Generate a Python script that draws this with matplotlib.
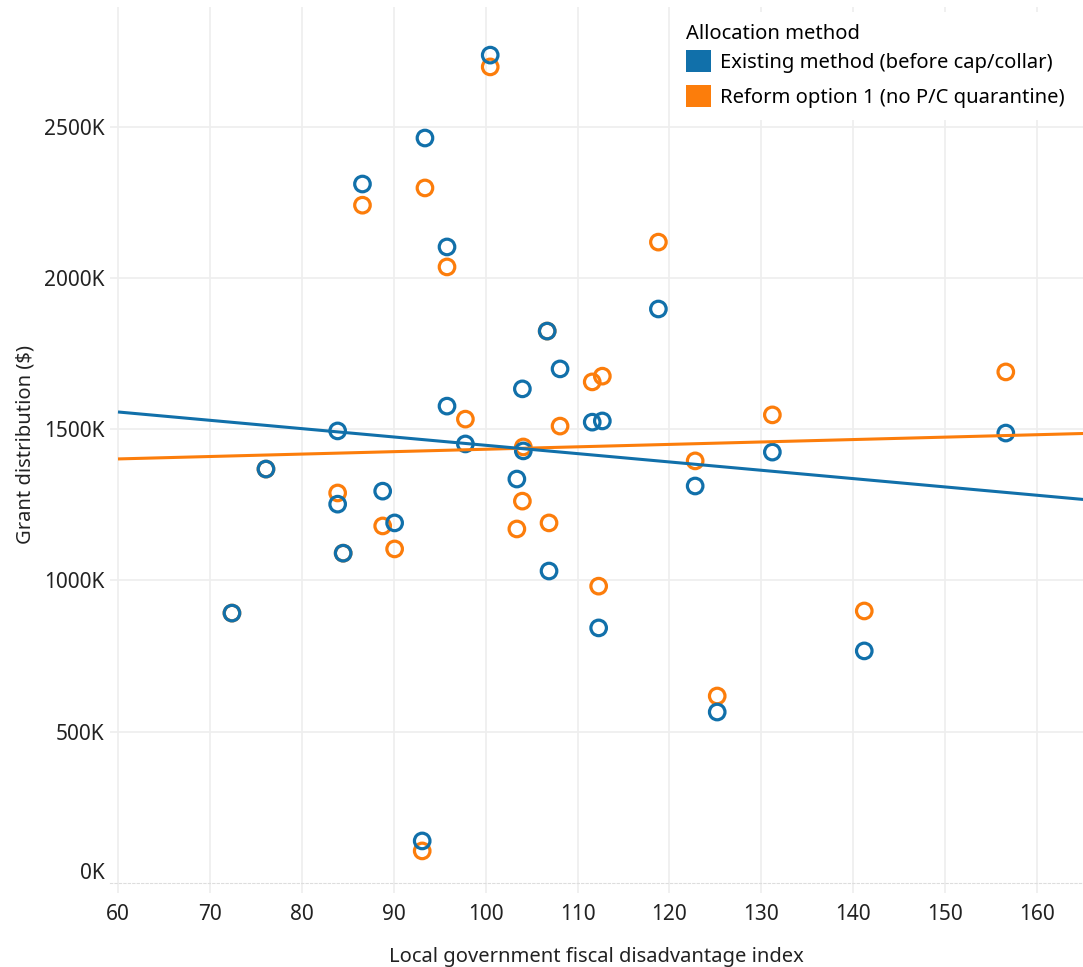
import numpy as np
import matplotlib
matplotlib.use("Agg")
import matplotlib.pyplot as plt
from matplotlib.patches import Patch
from matplotlib.ticker import FuncFormatter
import matplotlib.transforms as mtransforms

plt.rcParams['font.family'] = ['Noto Sans', 'DejaVu Sans']

# Existing method (before cap/collar)
x_existing = [100.5, 93.4, 86.6, 95.8, 118.8, 106.7, 108.1, 104.0, 95.8, 83.9,
              111.6, 112.7, 97.8, 104.1, 156.6, 131.2, 76.1, 103.4, 122.8, 88.8,
              83.9, 90.1, 84.5, 106.9, 72.4, 112.3, 141.2, 125.2, 93.1]
y_existing = [2736, 2462, 2310, 2102, 1897, 1824, 1699, 1633, 1576, 1494,
              1523, 1527, 1451, 1428, 1487, 1424, 1368, 1335, 1312, 1295,
              1252, 1190, 1090, 1031, 892, 843, 767, 565, 139]

# Reform option 1 (no P/C quarantine) - last four sit hidden under the blue circles
x_reform = [100.5, 93.4, 86.6, 95.8, 118.8, 111.6, 112.7, 156.6, 131.2, 97.8,
            108.1, 104.1, 122.8, 83.9, 104.0, 88.8, 103.4, 106.9, 90.1, 112.3,
            141.2, 125.2, 93.1,
            106.7, 76.1, 84.5, 72.4]
y_reform = [2697, 2297, 2240, 2036, 2118, 1656, 1675, 1689, 1547, 1533,
            1510, 1441, 1395, 1289, 1262, 1180, 1170, 1190, 1104, 981,
            899, 618, 106,
            1824, 1368, 1090, 892]

series = [
    ("Reform option 1 (no P/C quarantine)", x_reform, y_reform, "#fc7d0b"),
    ("Existing method (before cap/collar)", x_existing, y_existing, "#1170aa"),
]

fig = plt.figure(figsize=(10.83, 9.67), dpi=100)
ax = fig.add_axes([110 / 1083, 1 - 883 / 967, 973 / 1083, 876 / 967])

trend_x = np.array([60, 166])
for name, xs, ys, col in series:
    ax.scatter(xs, ys, s=125, facecolors='none', edgecolors=col, linewidths=2.3, zorder=3)
for name, xs, ys, col in series:
    k, b = np.polyfit(xs, ys, 1)
    ax.plot(trend_x, k * trend_x + b, color=col, lw=2.2, zorder=4, solid_capstyle='butt')

ax.set_xlim(59.13, 165.0)
ax.set_ylim(0, 2895)
ax.set_xticks(np.arange(60, 161, 10))
ax.set_yticks(np.arange(0, 2501, 500))
ax.yaxis.set_major_formatter(FuncFormatter(lambda v, p: f"{int(v)}K"))

ax.grid(True, color='#eeeeee', lw=1.2)
ax.set_axisbelow(True)
for s in ['top', 'right', 'left']:
    ax.spines[s].set_visible(False)
ax.spines['bottom'].set_color('#dddddd')
ax.spines['bottom'].set_linestyle((0, (2, 2)))
ax.spines['bottom'].set_linewidth(0.8)
ax.tick_params(axis='x', length=7, width=1.2, color='#eeeeee', labelsize=15, pad=8, labelcolor='#222222')
ax.tick_params(axis='y', length=0, labelsize=15, pad=4, labelcolor='#222222')
ax.yaxis.get_gridlines()[0].set_visible(False)

# nudge the 0K label up like the original
lbl0 = ax.get_yticklabels()[0]
lbl0.set_transform(lbl0.get_transform() + mtransforms.ScaledTranslation(0, 12 / 100, fig.dpi_scale_trans))

ax.set_xlabel("Local government fiscal disadvantage index", fontsize=14.5, color='#222222', labelpad=16)
ax.set_ylabel("Grant distribution ($)", fontsize=14.5, color='#222222', labelpad=6)

handles = [Patch(facecolor=series[1][3], label=series[1][0]),
           Patch(facecolor=series[0][3], label=series[0][0])]
leg = ax.legend(handles=handles, title="Allocation method", loc='upper left',
                bbox_to_anchor=(674 / 1083, 1 - 12 / 967), bbox_transform=fig.transFigure,
                fontsize=14.5, title_fontsize=14.5, frameon=True, facecolor='white',
                edgecolor='none', framealpha=1, handlelength=1.25, handleheight=1.25,
                handletextpad=0.45, labelspacing=0.62, borderaxespad=0, borderpad=0.6,
                alignment='left', fancybox=False)
leg._legend_box.sep = 4.5  # tighter gap between title and entries
leg.set_zorder(10)

fig.savefig("out.png", dpi=100)
